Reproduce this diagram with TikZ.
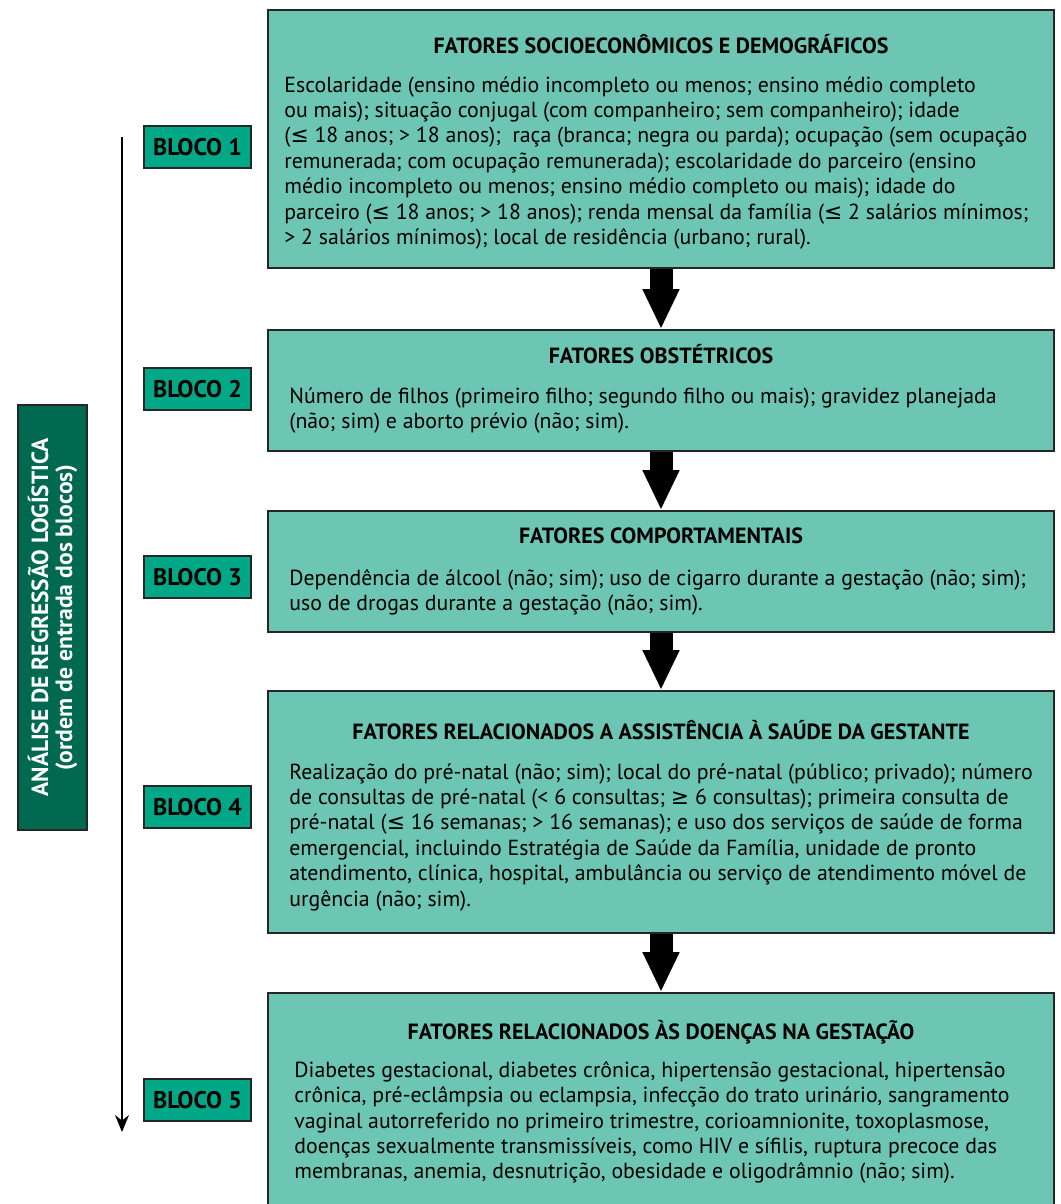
\documentclass[tikz,border=0pt]{standalone}
\usepackage{fontspec}
\setmainfont{PT Sans}
\newfontfamily\symb{DejaVu Sans}
\usetikzlibrary{arrows.meta}

\definecolor{caixa}{HTML}{6DC6B4}
\definecolor{verdebloco}{HTML}{00A887}
\definecolor{verdeescuro}{HTML}{00694F}

\newcommand\menorig{{\symb ≤}}
\newcommand\maiorig{{\symb ≥}}

\begin{document}
\begin{tikzpicture}[x=0.5pt,y=-0.5pt,
  fator/.style={draw=black!85,fill=caixa,line width=0.8pt,minimum width=393pt,inner sep=0pt},
  titulo/.style={inner sep=0pt,font=\fontsize{11}{12.7}\selectfont\bfseries},
  texto/.style={anchor=north west,align=left,inner sep=0pt,font=\fontsize{10.9}{12.7}\selectfont},
  bloco/.style={draw=black!85,fill=verdebloco,line width=0.6pt,minimum width=53.5pt,minimum height=21pt,
    inner sep=0pt,font=\fontsize{12}{12.7}\selectfont\bfseries},
  seta/.style={line width=11.5pt,-{Triangle[length=20pt,width=17pt]}}]
  \clip (0,0) rectangle (1060,1204);

  \node[fator,minimum height=129pt] (f1) at (661,139) {};
  \node[fator,minimum height=60.5pt] (f2) at (661,390.5) {};
  \node[fator,minimum height=60.5pt] (f3) at (661,571.5) {};
  \node[fator,minimum height=121pt] (f4) at (661,812) {};
  \node[fator,minimum height=111pt] (f5) at (661,1104) {};

  \node[titulo] (t1) at (661,44) {FATORES SOCIOECONÔMICOS E DEMOGRÁFICOS};
  \node[texto] (c1) at (284,76) {Escolaridade (ensino médio incompleto ou menos; ensino médio completo\\
    ou mais); situação conjugal (com companheiro; sem companheiro); idade\\
    (\menorig\ 18 anos; > 18 anos);\ \ raça (branca; negra ou parda); ocupação (sem ocupação\\
    remunerada; com ocupação remunerada); escolaridade do parceiro (ensino\\
    médio incompleto ou menos; ensino médio completo ou mais); idade do\\
    parceiro (\menorig\ 18 anos; > 18 anos); renda mensal da família (\menorig\ 2 salários mínimos;\\
    > 2 salários mínimos); local de residência (urbano; rural).};

  \node[titulo] (t2) at (661,354) {FATORES OBSTÉTRICOS};
  \node[texto] (c2) at (289,387) {Número de filhos (primeiro filho; segundo filho ou mais); gravidez planejada\\
    (não; sim) e aborto prévio (não; sim).};

  \node[titulo] (t3) at (661,536) {FATORES COMPORTAMENTAIS};
  \node[texto] (c3) at (289,569) {Dependência de álcool (não; sim); uso de cigarro durante a gestação (não; sim);\\
    uso de drogas durante a gestação (não; sim).};

  \node[titulo] (t4) at (661,730) {FATORES RELACIONADOS A ASSISTÊNCIA À SAÚDE DA GESTANTE};
  \node[texto] (c4) at (289,763) {Realização do pré-natal (não; sim); local do pré-natal (público; privado); número\\
    de consultas de pré-natal (< 6 consultas; \maiorig\ 6 consultas); primeira consulta de\\
    pré-natal (\menorig\ 16 semanas; > 16 semanas); e uso dos serviços de saúde de forma\\
    emergencial, incluindo Estratégia de Saúde da Família, unidade de pronto\\
    atendimento, clínica, hospital, ambulância ou serviço de atendimento móvel de\\
    urgência (não; sim).};

  \node[titulo] (t5) at (661,1032) {FATORES RELACIONADOS ÀS DOENÇAS NA GESTAÇÃO};
  \node[texto] (c5) at (294,1061) {Diabetes gestacional, diabetes crônica, hipertensão gestacional, hipertensão\\
    crônica, pré-eclâmpsia ou eclampsia, infecção do trato urinário, sangramento\\
    vaginal autorreferido no primeiro trimestre, corioamnionite, toxoplasmose,\\
    doenças sexualmente transmissíveis, como HIV e sífilis, ruptura precoce das\\
    membranas, anemia, desnutrição, obesidade e oligodrâmnio (não; sim).};

  \draw[seta] (f1.south) -- (f2.north);
  \draw[seta] (f2.south) -- (f3.north);
  \draw[seta] (f3.south) -- (f4.north);
  \draw[seta] (f4.south) -- (f5.north);

  \node[bloco] (b1) at (197.5,147) {BLOCO 1};
  \node[bloco] (b2) at (197.5,389) {BLOCO 2};
  \node[bloco] (b3) at (197.5,577) {BLOCO 3};
  \node[bloco] (b4) at (197.5,807) {BLOCO 4};
  \node[bloco] (b5) at (197.5,1100) {BLOCO 5};

  \coordinate (ini) at (122,137);
  \coordinate (fim) at (122,1132);
  \draw[line width=0.75pt,-{Stealth[length=8.5pt,width=7pt]}] (ini) -- (fim);

  \node[draw=black!85,fill=verdeescuro,line width=0.6pt,rotate=90,minimum width=212.5pt,minimum height=34.5pt,
    inner sep=0pt,align=center,text=white,font=\bfseries] (reg) at (52.5,617.5)
    {\fontsize{11.7}{10.5}\selectfont ANÁLISE DE REGRESSÃO LOGÍSTICA\\
     \fontsize{11.8}{10.5}\selectfont (ordem de entrada dos blocos)};
\end{tikzpicture}
\end{document}
